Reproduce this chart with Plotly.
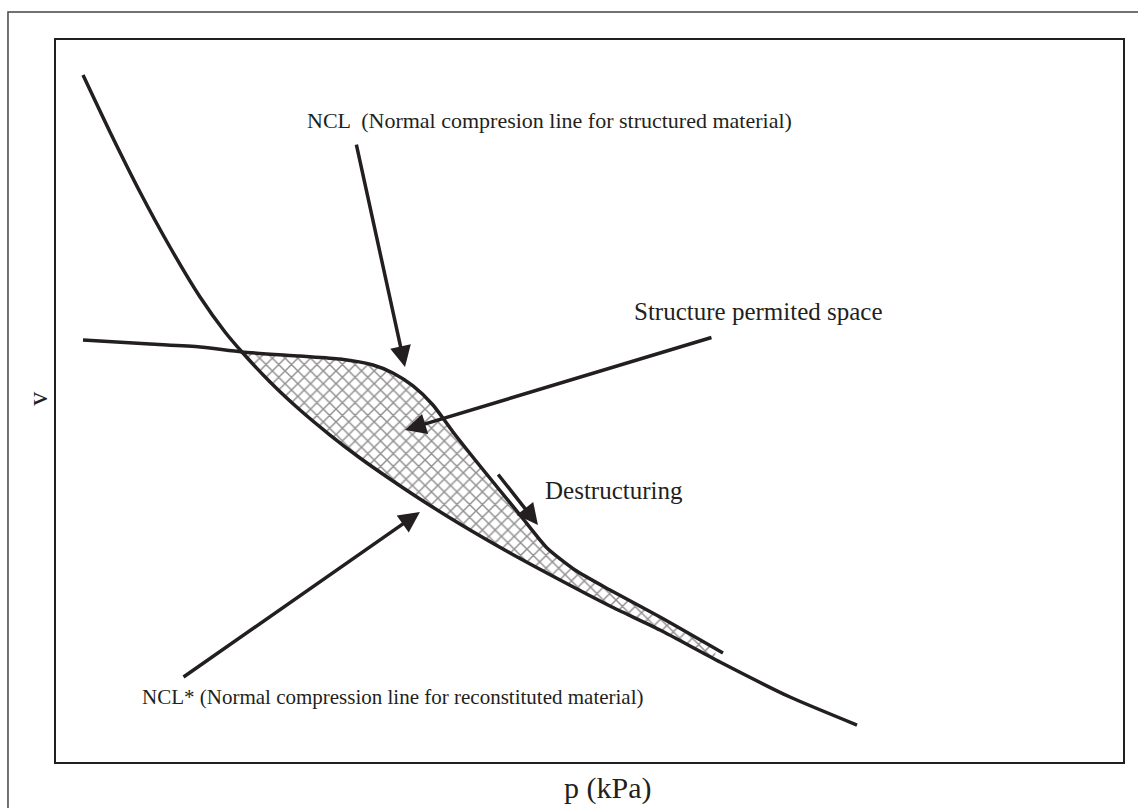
import numpy as np
import plotly.graph_objects as go

# --- data (p and v in arbitrary normalised units, 0-100) ---
ncl_star_p = [2.53, 5.06, 7.87, 10.68, 13.50, 15.84, 17.43, 20.06, 22.87, 25.68, 28.49,
              31.30, 34.11, 37.86, 42.55, 47.24, 51.92, 56.61, 62.23, 68.79, 75.07]
ncl_star_v = [95.15, 87.26, 78.95, 71.33, 64.40, 59.56, 56.79, 52.63, 48.75, 45.29, 42.11,
              39.20, 36.43, 32.96, 28.95, 25.21, 21.61, 18.28, 13.85, 9.00, 5.12]

ncl_p = [2.53, 8.81, 13.50, 17.43, 22.87, 26.62, 29.71, 31.58, 33.46, 35.33, 37.21,
         39.74, 43.49, 46.02, 48.64, 51.92, 56.61, 62.51]
ncl_v = [58.45, 57.89, 57.48, 56.79, 56.23, 55.82, 54.99, 53.88, 52.08, 49.45, 45.71,
         41.00, 34.21, 29.64, 26.59, 23.82, 20.08, 15.10]

space_p_start, space_p_end = 17.43, 61.8

labels = {
    "ncl": "NCL  (Normal compresion line for structured material)",
    "nclstar": "NCL* (Normal compression line for reconstituted material)",
    "space": "Structure permited space",
    "destr": "Destructuring",
    "x": "p (kPa)",
    "y": "v",
}

# --- hatched region built from the two curves ---
grid = np.linspace(space_p_start, space_p_end, 80)
upper = np.interp(grid, ncl_p, ncl_v)
lower = np.interp(grid, ncl_star_p, ncl_star_v)
poly_p = np.concatenate([grid, grid[::-1]])
poly_v = np.concatenate([upper, lower[::-1]])

ink = "#231f20"
fig = go.Figure()
fig.add_trace(go.Scatter(
    x=poly_p, y=poly_v, mode="lines", fill="toself",
    line=dict(width=0, color="rgba(0,0,0,0)"),
    fillcolor="white",
    fillpattern=dict(shape="x", fgcolor="#222", bgcolor="white", size=9, solidity=0.3),
    hoverinfo="skip", showlegend=False))
for px_, pv_ in ((ncl_star_p, ncl_star_v), (ncl_p, ncl_v)):
    fig.add_trace(go.Scatter(x=px_, y=pv_, mode="lines",
                             line=dict(color=ink, width=3.5, shape="spline", smoothing=0.6),
                             showlegend=False))

font = "Liberation Serif, Times New Roman, serif"

def arrow(tail, tip):
    fig.add_annotation(x=tip[0], y=tip[1], ax=tail[0], ay=tail[1], xref="x", yref="y",
                       axref="x", ayref="y", text="", showarrow=True, arrowhead=2,
                       arrowsize=1.2, arrowwidth=3.5, arrowcolor=ink)

arrow((28.12, 85.73), (32.71, 54.71))
arrow((61.57, 58.86), (32.71, 45.98))
arrow((41.33, 40.03), (45.17, 32.83))
arrow((11.81, 11.63), (34.11, 34.63))

def text(x, y, s, size, xanchor="left", xref="x", yref="y", angle=0):
    fig.add_annotation(x=x, y=y, xref=xref, yref=yref, text=s, showarrow=False,
                       xanchor=xanchor, yanchor="middle", textangle=angle,
                       font=dict(family=font, size=size, color=ink))

text(23.34, 88.92, labels["ncl"], 22)
text(53.98, 62.33, labels["space"], 25)
text(45.64, 37.67, labels["destr"], 25)
text(7.87, 9.0, labels["nclstar"], 21)
text(0.517, -0.036, labels["x"], 30, xanchor="center", xref="paper", yref="paper")
text(-0.0169, 0.503, labels["y"], 28, xanchor="center", xref="paper", yref="paper", angle=-90)

# outer frame
fig.add_shape(type="rect", xref="paper", yref="paper", x0=-0.045, x1=2, y0=-1, y1=1.0388,
              line=dict(color="#444", width=1.5), layer="below")

axis = dict(range=[0, 100], showline=True, mirror=True, linecolor=ink, linewidth=2,
            showgrid=False, zeroline=False, showticklabels=False, ticks="")
fig.update_layout(width=1138, height=808, autosize=False,
                  margin=dict(l=56, r=15, t=40, b=46),
                  plot_bgcolor="white", paper_bgcolor="white",
                  xaxis=axis, yaxis=axis)
fig.write_html("out.html")
